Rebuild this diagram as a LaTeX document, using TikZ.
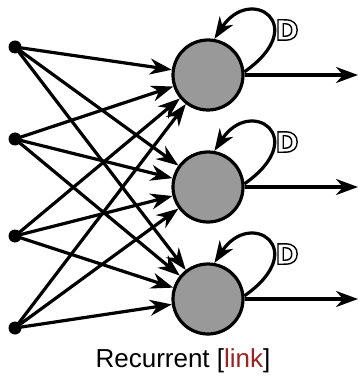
\documentclass[tikz,border=0pt]{standalone}
\usepackage{fontspec}
\setmainfont{Liberation Sans}
\newfontfamily\delayfont{DejaVu Sans}
\usetikzlibrary{arrows.meta}
\definecolor{neurongray}{RGB}{153,153,153}
\definecolor{linkred}{RGB}{155,35,35}
% outlined glyphs: stroke only, through the PDF text render mode
\newcommand\strokedtext[1]{\special{pdf:code q 1 Tr 1.4 w}#1\special{pdf:code Q}}
\tikzset{
  inputdot/.style={circle, fill=black, inner sep=0pt, minimum size=13pt},
  neuron/.style={circle, draw=black, fill=neurongray, line width=3.2pt, inner sep=0pt, minimum size=70pt},
  conn/.style={line width=3.2pt, -{Stealth[length=22pt, width=16pt, inset=7pt]}},
  delaylabel/.style={font=\delayfont\bfseries\fontsize{28}{28}\selectfont, inner sep=0pt}
}
\begin{document}
\begin{tikzpicture}[x=1pt, y=-1pt]
  \useasboundingbox (0,0) rectangle (359,379);

  % input layer
  \node[inputdot] (i1) at (15,47) {};
  \node[inputdot] (i2) at (15,139) {};
  \node[inputdot] (i3) at (15,236) {};
  \node[inputdot] (i4) at (15,328) {};

  % recurrent units
  \node[neuron] (n1) at (208,75) {};
  \node[neuron] (n2) at (208,187) {};
  \node[neuron] (n3) at (208,299) {};

  % output ends
  \coordinate (o1) at (358,75);
  \coordinate (o2) at (358,187);
  \coordinate (o3) at (358,299);

  % full connections from inputs to units
  \foreach \i in {1,...,4} {
    \foreach \n in {1,2,3} {
      \draw[conn] (i\i.center) -- (n\n);
    }
  }

  % outputs and delayed self-connections
  \foreach \n in {1,2,3} {
    \draw[conn] (n\n.east) -- (o\n);
    \draw[conn] (n\n.5) .. controls +(67,-47) and +(36,-55) .. (n\n.80);
    \node[delaylabel] (d\n) at ([xshift=79pt, yshift=45pt]n\n.center) {\strokedtext{D}};
  }

  % caption
  \node[font=\fontsize{26}{26}\selectfont, inner sep=0pt] (cap) at (183,361) {Recurrent [\textcolor{linkred}{link}]};
\end{tikzpicture}
\end{document}
